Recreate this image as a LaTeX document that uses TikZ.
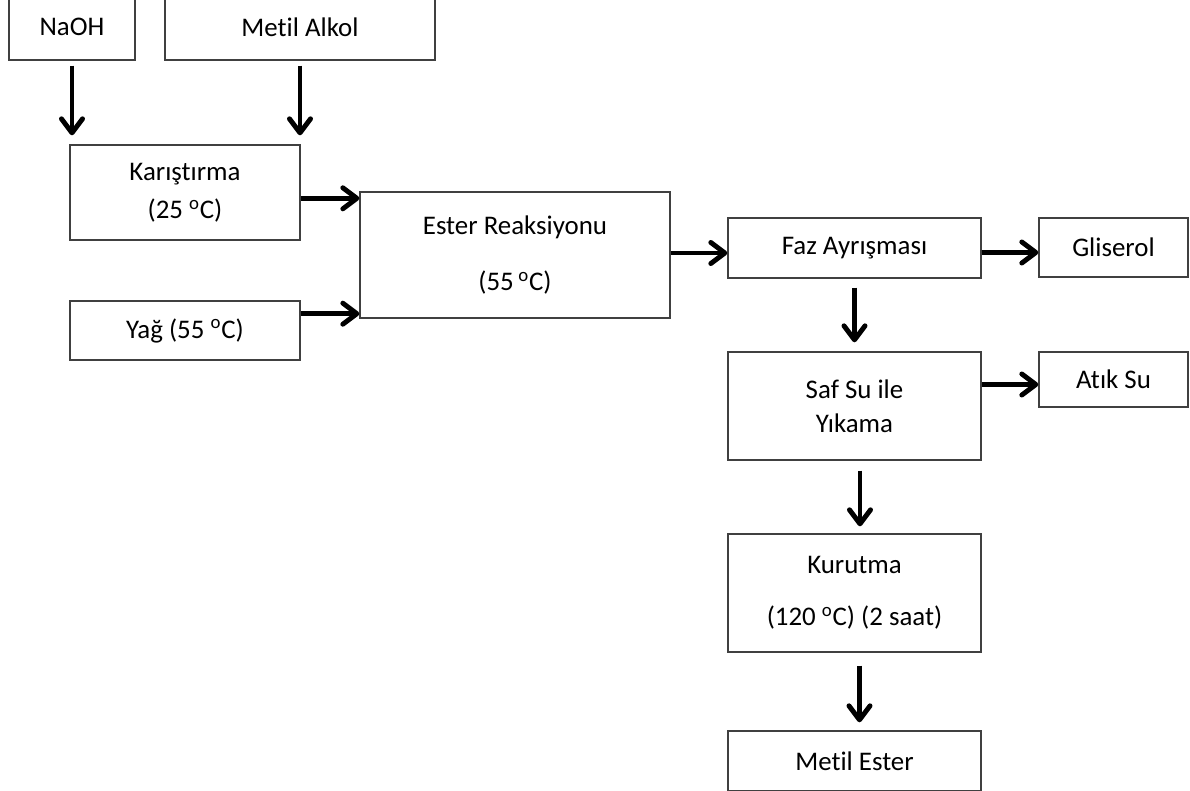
\documentclass[tikz,border=0pt]{standalone}
\usepackage{fontspec}
\setmainfont{Carlito}[Ligatures=NoCommon]
\usetikzlibrary{positioning,arrows.meta,calc}
\definecolor{BoxLine}{RGB}{64,64,64}

\begin{document}
\begin{tikzpicture}[x=0.02cm,y=-0.02cm,
    font=\fontsize{15.3}{18}\selectfont,
    box/.style={draw=BoxLine,line width=0.8pt,inner sep=0pt,align=center},
    flow/.style={-{Straight Barb[length=8pt,width=12pt,round]},line width=2.8pt}]
  \useasboundingbox (0,0) rectangle (1190,791);
  % feed boxes
  \node[box,minimum width=2.52cm,minimum height=1.32cm] (naoh) at (72,27) {NaOH};
  \node[box,minimum width=5.4cm,minimum height=1.32cm] (metil) at (300,27) {Metil Alkol};
  \node[box,minimum width=4.6cm,minimum height=1.9cm] (kar) at (185,192.5) {Kar\i\c{s}t\i rma\\[3.6pt](25 \textsuperscript{o}C)};
  \node[box,minimum width=4.6cm,minimum height=1.18cm] (yag) at (185,330.5) {Ya\u{g} (55 \textsuperscript{o}C)};
  % process line
  \node[box,minimum width=6.2cm,minimum height=2.52cm] (ester) at (515,255) {Ester Reaksiyonu\\[14pt](55\,\textsuperscript{o}C)};
  \node[box,minimum width=5.06cm,minimum height=1.2cm] (faz) at (854.5,248) {Faz Ayr\i\c{s}mas\i};
  \node[box,minimum width=2.98cm,minimum height=1.18cm] (glis) at (1113.5,247.5) {Gliserol};
  \node[box,minimum width=5.06cm,minimum height=2.16cm] (saf) at (854.5,406) {Saf Su ile\\[1.4pt]Y\i kama};
  \node[box,minimum width=2.98cm,minimum height=1.1cm] (atik) at (1113.5,379.5) {At\i k Su};
  \node[box,minimum width=5.06cm,minimum height=2.36cm] (kur) at (854.5,593) {Kurutma\\[11.6pt](120 \textsuperscript{o}C) (2 saat)};
  \node[box,minimum width=5.06cm,minimum height=1.2cm] (mester) at (854.5,761) {Metil Ester};

  % arrows
  \draw[flow,shorten <=0.1cm,shorten >=0.18cm] (naoh.south) -- (naoh.south |- kar.north);
  \draw[flow,shorten <=0.1cm,shorten >=0.18cm] (metil.south) -- (metil.south |- kar.north);
  \coordinate (k2e) at ([yshift=-0.14cm]ester.north west);
  \coordinate (y2e) at ([yshift=0.1cm]ester.south west);
  \draw[flow] (kar.east |- k2e) -- (k2e);
  \draw[flow] (yag.east |- y2e) -- (y2e);
  \coordinate (e2f) at ([yshift=-0.1cm]faz.west);
  \draw[flow] (ester.east |- e2f) -- (e2f);
  \coordinate (f2g) at ([yshift=-0.1cm]glis.west);
  \draw[flow] (faz.east |- f2g) -- (f2g);
  \coordinate (s2a) at ([yshift=-0.1cm]atik.west);
  \draw[flow] (saf.east |- s2a) -- (s2a);
  \draw[flow,shorten <=0.18cm,shorten >=0.18cm] (faz.south) -- (saf.north);
  \draw[flow,shorten <=0.2cm,shorten >=0.14cm] ([xshift=0.11cm]saf.south) -- ([xshift=0.11cm]kur.north);
  \draw[flow,shorten <=0.26cm,shorten >=0.16cm] ([xshift=0.1cm]kur.south) -- ([xshift=0.1cm]mester.north);
\end{tikzpicture}
\end{document}
